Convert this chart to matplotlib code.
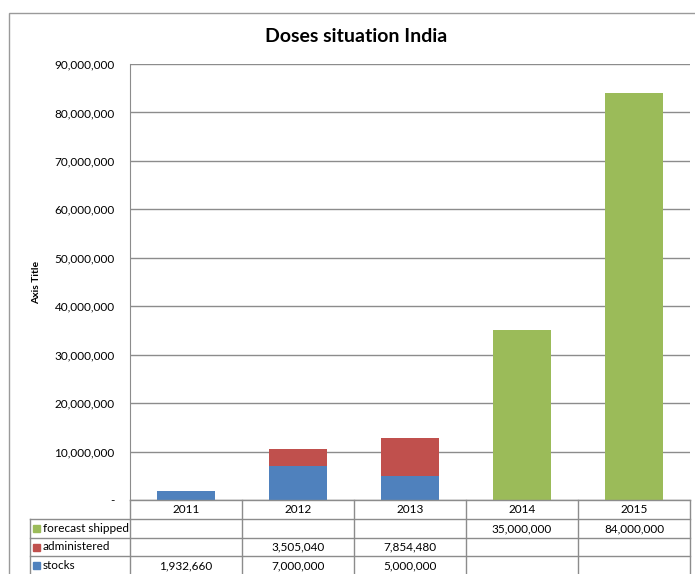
import numpy as np
import matplotlib.pyplot as plt
from matplotlib.patches import Rectangle
from matplotlib.lines import Line2D
from matplotlib.ticker import FuncFormatter

plt.rcParams['font.family'] = ['Lato', 'DejaVu Sans']

years = ["2011", "2012", "2013", "2014", "2015"]
stocks = [1932660, 7000000, 5000000, 0, 0]
administered = [0, 3505040, 7854480, 0, 0]
forecast = [0, 0, 0, 35000000, 84000000]
series_names = ["forecast shipped", "administered", "stocks"]
colors = {"stocks": "#4F81BD", "administered": "#C0504D", "forecast shipped": "#9BBB59"}

W, H = 695, 574
fig = plt.figure(figsize=(W / 100, H / 100), dpi=100)
grid_col = "#8c8c8c"


def fx(px):
    return px / W


def fy(py):
    return 1 - py / H


# outer chart frame
fig.patches.append(Rectangle((fx(9), fy(700)), fx(800), fy(13) - fy(700), transform=fig.transFigure,
                             fill=False, edgecolor="#9a9a9a", lw=1.0))

x0, x1, y_top, y_bot = 130, 690, 64, 500
ax = fig.add_axes([fx(x0), fy(y_bot), fx(x1 - x0), fy(y_top) - fy(y_bot)])
x = np.arange(len(years))
w = 0.51
ax.bar(x, stocks, w, color=colors["stocks"], zorder=3)
ax.bar(x, administered, w, bottom=stocks, color=colors["administered"], zorder=3)
base = np.array(stocks) + np.array(administered)
ax.bar(x, forecast, w, bottom=base, color=colors["forecast shipped"], zorder=3)

ax.set_xlim(-0.5, 4.5)
ax.set_ylim(0, 90000000)
ax.set_yticks(np.arange(0, 90000001, 10000000))
ax.yaxis.set_major_formatter(FuncFormatter(lambda v, p: "-" if v == 0 else f"{int(v):,}"))
ax.tick_params(axis="y", length=0, pad=11, labelsize=8.5)
ax.set_xticks([])
ax.grid(axis="y", color=grid_col, lw=1.0, zorder=0)
for s in ["top", "right", "bottom"]:
    ax.spines[s].set_visible(False)
ax.spines["left"].set_color(grid_col)
ax.set_ylabel("Axis Title", fontsize=7.5, fontweight="bold", labelpad=10)

fig.text(fx(356), fy(37), "Doses situation India", ha="center", va="center", fontsize=14, fontweight="bold")

# data table
col_edges = np.linspace(x0, x1, len(years) + 1)
row_edges = [500, 519, 538, 556, 575]
label_left = 30


def hline(xa, xb, yy):
    fig.add_artist(Line2D([fx(xa), fx(xb)], [fy(yy), fy(yy)], color=grid_col, lw=1.0))


def vline(xx, ya, yb):
    fig.add_artist(Line2D([fx(xx), fx(xx)], [fy(ya), fy(yb)], color=grid_col, lw=1.0))


hline(x0, x1, row_edges[0])
for r in row_edges[1:]:
    hline(label_left, x1, r)
for c in col_edges:
    vline(c, row_edges[0], row_edges[-1])
vline(label_left, row_edges[1], row_edges[-1])

for i, yr in enumerate(years):
    cx = (col_edges[i] + col_edges[i + 1]) / 2
    fig.text(fx(cx), fy((row_edges[0] + row_edges[1]) / 2), yr, ha="center", va="center", fontsize=8.5)

table_vals = {"forecast shipped": forecast, "administered": administered, "stocks": stocks}
for r, name in enumerate(series_names):
    yc = (row_edges[r + 1] + row_edges[r + 2]) / 2
    fig.patches.append(Rectangle((fx(33), fy(yc + 3.5)), fx(7), fy(yc - 3.5) - fy(yc + 3.5),
                                 transform=fig.transFigure, color=colors[name]))
    fig.text(fx(43), fy(yc), name, ha="left", va="center", fontsize=8.5)
    for i, v in enumerate(table_vals[name]):
        if v:
            cx = (col_edges[i] + col_edges[i + 1]) / 2
            fig.text(fx(cx), fy(yc), f"{v:,}", ha="center", va="center", fontsize=8.5)

fig.savefig("out.png", dpi=100)
